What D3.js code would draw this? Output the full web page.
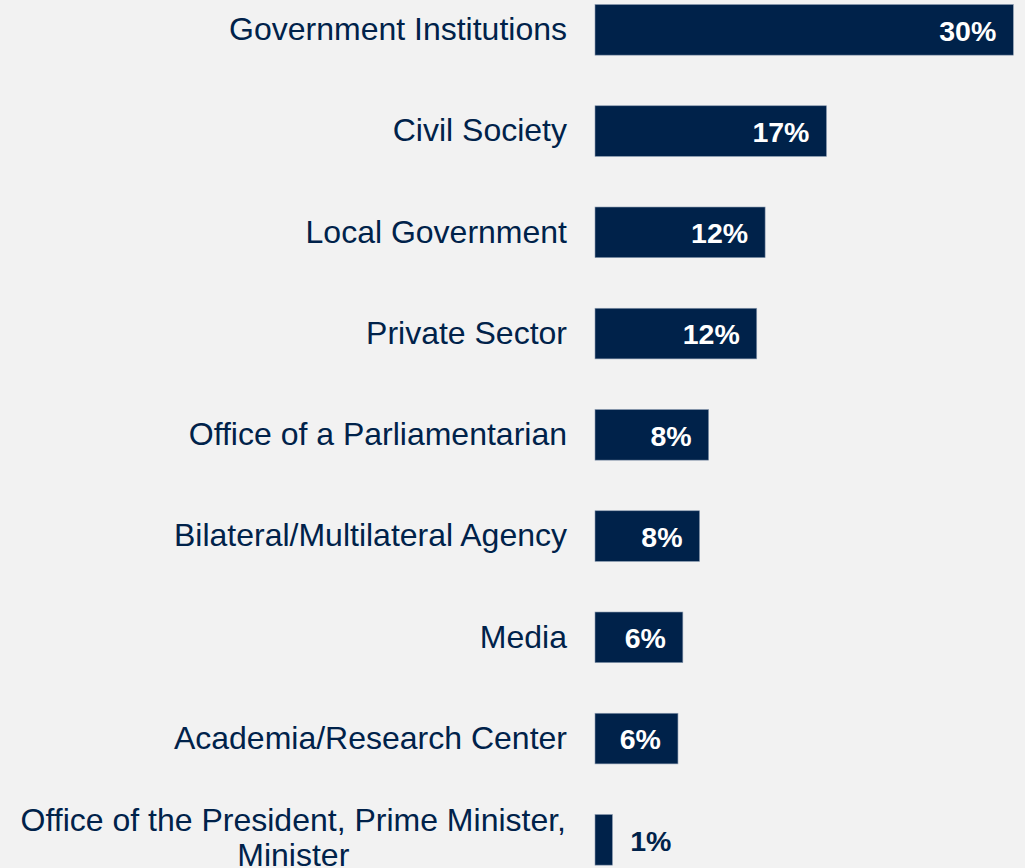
<!DOCTYPE html>
<html>
<head>
<meta charset="utf-8">
<script src="https://cdn.jsdelivr.net/npm/d3@7"></script>
<style>
  html, body { margin: 0; padding: 0; background: #f2f2f2; }
  svg { display: block; }
</style>
</head>
<body>
<svg id="chart" width="1025" height="868"></svg>
<script>
// Share of respondents by type of organisation (%)
const categories = [
  "Government Institutions",
  "Civil Society",
  "Local Government",
  "Private Sector",
  "Office of a Parliamentarian",
  "Bilateral/Multilateral Agency",
  "Media",
  "Academia/Research Center",
  "Office of the President, Prime Minister, Minister"
];
const shares = [30.0, 16.6, 12.2, 11.6, 8.15, 7.5, 6.3, 5.95, 1.25];

const navy = "#00224a";
const font = "'Liberation Sans', Arial, Helvetica, sans-serif";

const svg = d3.select("#chart");
const x0 = 595;

const x = d3.scaleLinear().domain([0, 30]).range([x0, 1013.3]);
const y = d3.scaleBand()
  .domain(categories)
  .range([-20.8, 890.45])
  .paddingInner(0.5)
  .paddingOuter(0.25);

const rows = categories.map((c, i) => ({ category: c, value: shares[i] }));

// Bars
svg.append("g")
  .selectAll("rect")
  .data(rows)
  .join("rect")
  .attr("x", x(0))
  .attr("y", d => y(d.category))
  .attr("width", d => x(d.value) - x(0))
  .attr("height", y.bandwidth())
  .attr("fill", navy)
  .attr("stroke", "#8a9ab0")
  .attr("stroke-width", 0.6);

// Category axis on the left of the bars
const axis = svg.append("g")
  .attr("transform", `translate(${x0},0)`)
  .call(d3.axisLeft(y).tickSize(0).tickPadding(28));
axis.select(".domain").remove();

const labelSize = 32;
const lineH = 35.5;
const maxW = 570;

axis.selectAll(".tick text")
  .attr("fill", navy)
  .style("font-family", font)
  .style("font-size", labelSize + "px")
  .attr("dy", null)
  .each(function (d) {
    const t = d3.select(this);
    const words = d.split(" ");
    t.text(null);
    // greedy word wrap
    const probe = t.append("tspan");
    const lines = [];
    let cur = [];
    words.forEach(w => {
      cur.push(w);
      probe.text(cur.join(" "));
      if (probe.node().getComputedTextLength() > maxW && cur.length > 1) {
        cur.pop();
        lines.push(cur.join(" "));
        cur = [w];
      }
    });
    lines.push(cur.join(" "));
    probe.remove();

    const base = labelSize * 0.32 - (lines.length - 1) * lineH / 2;
    if (lines.length === 1) {
      t.attr("text-anchor", "end")
        .append("tspan").attr("x", -28).attr("dy", base + "px").text(lines[0]);
    } else {
      const tmp = t.append("tspan").text(lines[0]);
      const w0 = tmp.node().getComputedTextLength();
      tmp.remove();
      const cx = -29 - w0 / 2;
      t.attr("text-anchor", "middle");
      lines.forEach((ln, i) => {
        t.append("tspan")
          .attr("x", cx)
          .attr("dy", (i === 0 ? base - 1.5 : lineH) + "px")
          .text(ln);
      });
    }
  });

// Value labels
const valueSize = 28.5;
svg.append("g")
  .selectAll("text")
  .data(rows)
  .join("text")
  .style("font-family", font)
  .style("font-size", valueSize + "px")
  .style("font-weight", "bold")
  .attr("y", d => y(d.category) + y.bandwidth() / 2)
  .attr("dy", (valueSize * 0.38) + "px")
  .each(function (d) {
    const inside = x(d.value) - x(0) > 60;
    d3.select(this)
      .attr("x", inside ? x(d.value) - 17 : x(d.value) + 17.7)
      .attr("text-anchor", inside ? "end" : "start")
      .attr("fill", inside ? "#ffffff" : navy)
      .text(Math.round(d.value) + "%");
  });
</script>
</body>
</html>
